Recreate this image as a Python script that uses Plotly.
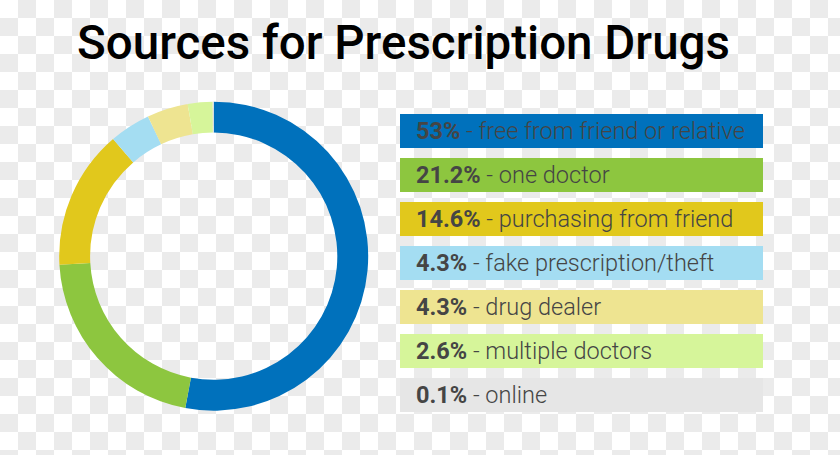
import numpy as np
import plotly.graph_objects as go

# ---- data ----
labels = ["free from friend or relative", "one doctor", "purchasing from friend",
          "fake prescription/theft", "drug dealer", "multiple doctors", "online"]
values = [53, 21.2, 14.6, 4.3, 4.3, 2.6, 0.1]
value_text = ["53", "21.2", "14.6", "4.3", "4.3", "2.6", "0.1"]
colors = ["#0071BC", "#8DC63F", "#E1C81C", "#A4DDF2", "#EEE491", "#D6F59A", "#E6E6E6"]
title_text = "Sources for Prescription Drugs"

W, H = 840, 455

fig = go.Figure()

# checkerboard background (transparency pattern of the reference)
cell = 18
nx, ny = W // cell + 1, H // cell + 1
z = [[(i + j) % 2 for i in range(nx)] for j in range(ny)]
fig.add_trace(go.Heatmap(
    z=z, x0=cell / 2, dx=cell, y0=cell / 2, dy=cell,
    colorscale=[[0, "#ffffff"], [1, "#ebebeb"]], showscale=False,
    hoverinfo="skip", zmin=0, zmax=1,
))

# donut
cx, cy, r = 213.7, 256.2, 154.5
fig.add_trace(go.Pie(
    labels=labels, values=values, hole=0.80, sort=False, direction="clockwise",
    rotation=0, marker=dict(colors=colors, line=dict(width=0)),
    textinfo="none", showlegend=False,
    domain=dict(x=[(cx - r) / W, (cx + r) / W],
                y=[(H - cy - r) / H, (H - cy + r) / H]),
))

# legend boxes with text
shapes, annotations = [], []
box_x0, box_x1 = 400, 763
top0, step, bh = 114, 44, 34
for i, (lab, vt, col) in enumerate(zip(labels, value_text, colors)):
    y0 = top0 + i * step
    shapes.append(dict(type="rect", xref="x", yref="y", x0=box_x0, x1=box_x1,
                       y0=y0, y1=y0 + bh, fillcolor=col, line=dict(width=0), layer="above"))
    annotations.append(dict(
        xref="x", yref="y", x=414, y=y0 + bh / 2, xanchor="left", yanchor="middle",
        text=f"<b>{vt}%</b> - {lab}", showarrow=False,
        font=dict(family="Roboto", size=23.5, color="#454545", weight=300),
    ))

annotations.append(dict(
    xref="x", yref="y", x=75, y=43, xanchor="left", yanchor="middle",
    text=title_text, showarrow=False,
    font=dict(family="Roboto", size=47.5, color="#000000", weight=500),
))

fig.update_layout(
    width=W, height=H, autosize=False,
    margin=dict(l=0, r=0, t=0, b=0, pad=0),
    paper_bgcolor="white", plot_bgcolor="white",
    xaxis=dict(range=[0, W], visible=False, fixedrange=True),
    yaxis=dict(range=[H, 0], visible=False, fixedrange=True),
    shapes=shapes, annotations=annotations,
)

fig.write_html("out.html")
